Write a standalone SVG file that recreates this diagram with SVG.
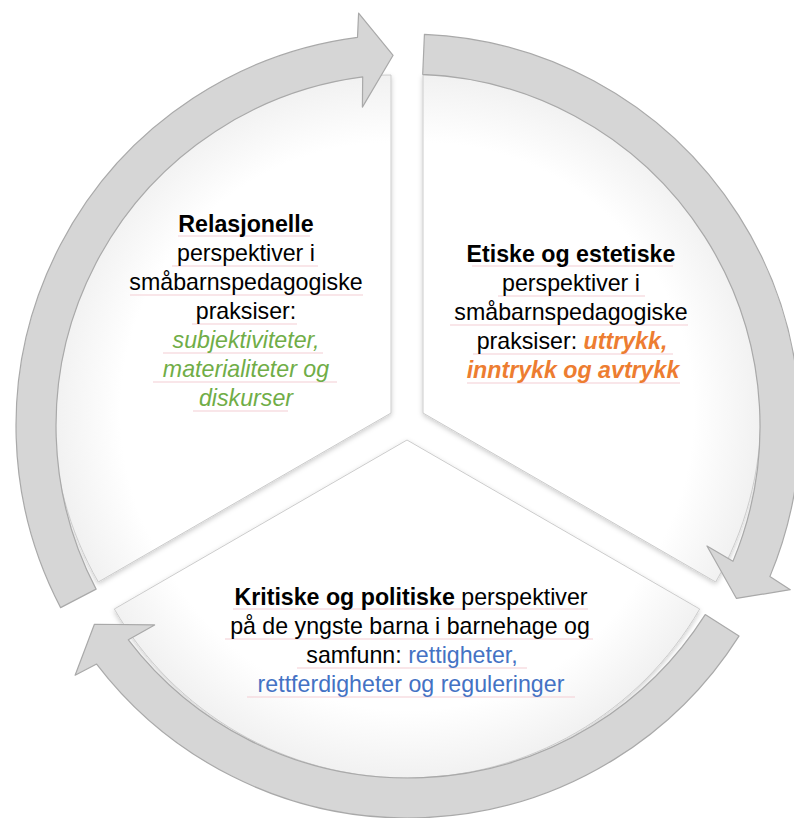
<svg xmlns="http://www.w3.org/2000/svg" width="794" height="818" viewBox="0 0 794 818">
<defs>
<style>
.t{font-family:"Liberation Sans",Arial,sans-serif;font-size:23.2px;fill:#000;text-anchor:middle}
.b{font-weight:bold}
.g{fill:#70ad47;font-style:italic}
.o{fill:#ed7d31;font-style:italic;font-weight:bold}
.bl{fill:#4472c4}
.sec{stroke:#cccccc;stroke-width:1}
.arr{fill:#d6d6d6;stroke:#a9a9a9;stroke-width:1.2;stroke-linejoin:round}
.ul{stroke:#f4cdd4;stroke-width:1.2;fill:none}
</style>
<filter id="sh" x="-10%" y="-10%" width="120%" height="120%">
<feGaussianBlur in="SourceAlpha" stdDeviation="2.5"/>
<feOffset dx="0" dy="2" result="b"/>
<feFlood flood-color="#000" flood-opacity="0.2"/>
<feComposite in2="b" operator="in"/>
<feMerge><feMergeNode/><feMergeNode in="SourceGraphic"/></feMerge>
</filter>
<radialGradient id="gL" gradientUnits="userSpaceOnUse" cx="391" cy="413" r="338"><stop offset="0" stop-color="#fff"/><stop offset="0.8" stop-color="#fff"/><stop offset="1" stop-color="#f1f1f1"/></radialGradient>
<radialGradient id="gR" gradientUnits="userSpaceOnUse" cx="423" cy="413" r="338"><stop offset="0" stop-color="#fff"/><stop offset="0.8" stop-color="#fff"/><stop offset="1" stop-color="#f1f1f1"/></radialGradient>
<radialGradient id="gB" gradientUnits="userSpaceOnUse" cx="407" cy="440" r="338"><stop offset="0" stop-color="#fff"/><stop offset="0.8" stop-color="#fff"/><stop offset="1" stop-color="#f1f1f1"/></radialGradient>
<path id="arrowA" d="M 60.6 607.6 A 392 392 0 0 1 357.5 37.3 L 358.6 13.1 L 393.1 55.3 L 362.4 107.1 L 362.7 76.9 A 352 352 0 0 0 96.1 589.1 Z"/>
</defs>
<rect width="794" height="818" fill="#fff"/>

<g id="sector-relasjonelle">
<path class="sec" fill="url(#gL)" filter="url(#sh)" d="M 391 413 L 98.3 582 A 338 338 0 0 1 391 75 Z"/>
</g>
<g id="sector-etiske">
<path class="sec" fill="url(#gR)" filter="url(#sh)" d="M 423 413 L 423 75 A 338 338 0 0 1 715.7 582 Z"/>
</g>
<g id="sector-kritiske">
<path class="sec" fill="url(#gB)" filter="url(#sh)" d="M 407 440 L 699.7 609 A 338 338 0 0 1 114.3 609 Z"/>
</g>

<g id="connectors">
<use href="#arrowA" class="arr"/>
<use href="#arrowA" class="arr" transform="rotate(120 408 426)"/>
<use href="#arrowA" class="arr" transform="rotate(240 408 426)"/>
</g>

<g id="spellcheck-underlines" class="ul">
<path d="M178 236H310M172 266H318M130 295H363M192 324H297M163 353H323M153 382H337M193 411H288"/>
<path d="M472 266H673M498 296H645M450 325H688M473 354H673M467 383H680"/>
<path d="M233 609H588M225 639H593M297 668H527M247 697H575"/>
</g>

<g id="text-relasjonelle">
<text class="t" x="246" y="232"><tspan class="b">Relasjonelle</tspan></text>
<text class="t" x="246" y="261">perspektiver i</text>
<text class="t" x="246" y="290">småbarnspedagogiske</text>
<text class="t" x="246" y="319">praksiser:</text>
<text class="t g" x="246" y="348">subjektiviteter,</text>
<text class="t g" x="246" y="377">materialiteter og</text>
<text class="t g" x="246" y="406">diskurser</text>
</g>

<g id="text-etiske">
<text class="t b" x="571" y="262">Etiske og estetiske</text>
<text class="t" x="571" y="291">perspektiver i</text>
<text class="t" x="571" y="320">småbarnspedagogiske</text>
<text class="t" x="572" y="349">praksiser: <tspan class="o">uttrykk,</tspan></text>
<text class="t o" x="573" y="378">inntrykk og avtrykk</text>
</g>

<g id="text-kritiske">
<text class="t" x="411" y="605"><tspan class="b">Kritiske og politiske</tspan> perspektiver</text>
<text class="t" x="410" y="634">på de yngste barna i barnehage og</text>
<text class="t" x="412" y="663">samfunn: <tspan class="bl">rettigheter,</tspan></text>
<text class="t bl" x="411" y="692">rettferdigheter og reguleringer</text>
</g>
</svg>
